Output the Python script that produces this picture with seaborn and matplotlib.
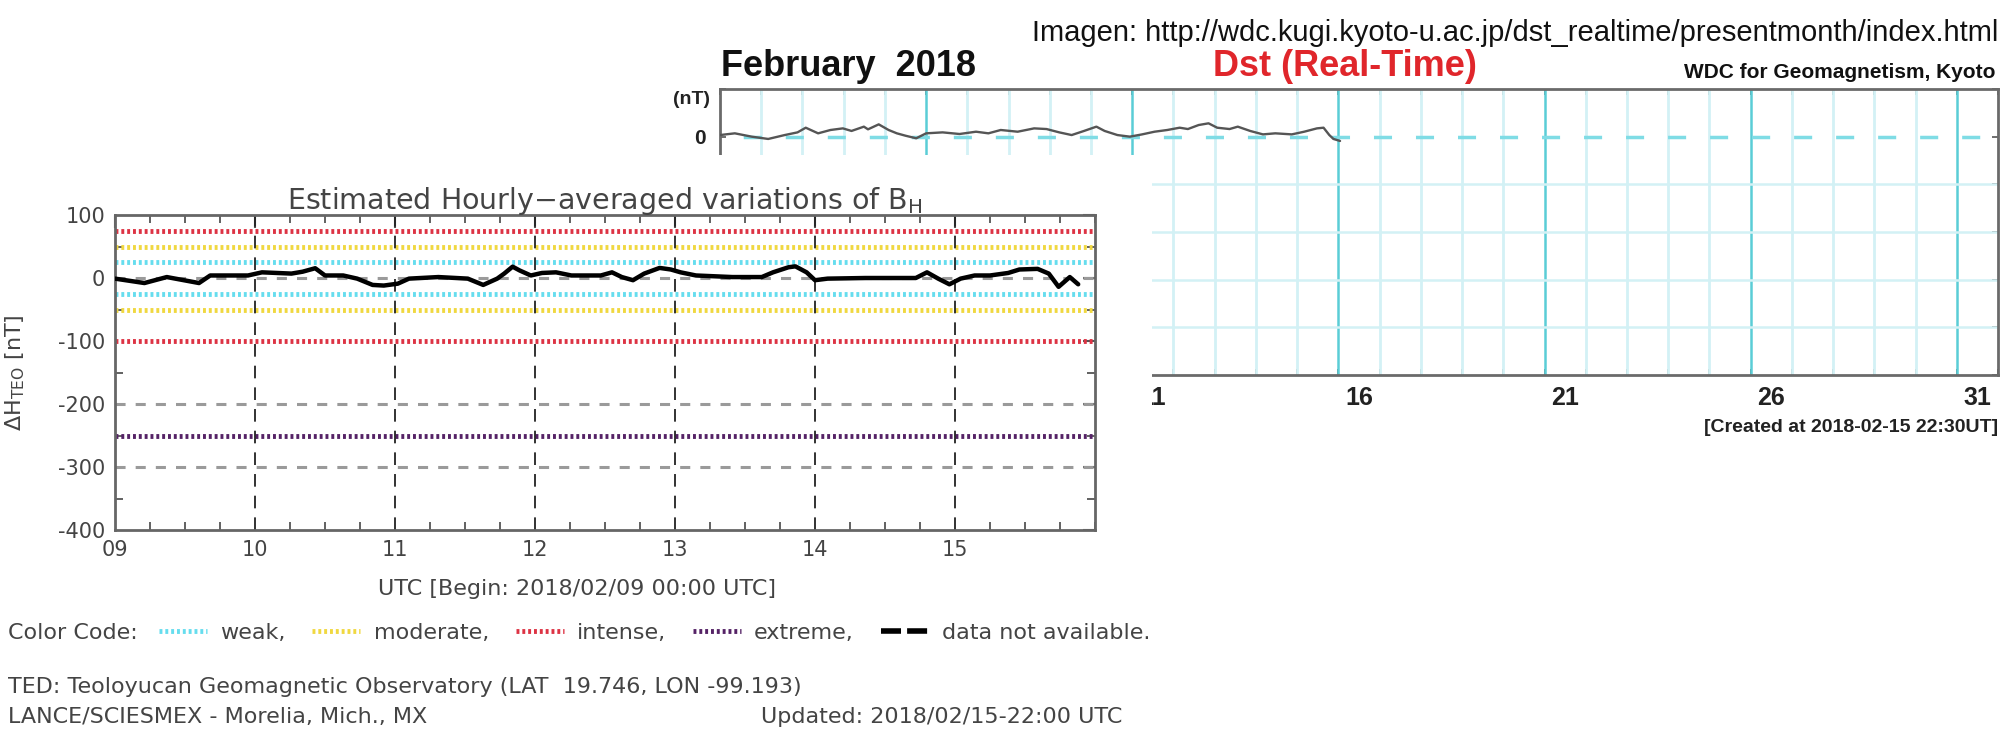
import matplotlib
matplotlib.use("Agg")
import matplotlib.pyplot as plt
import seaborn as sns
import numpy as np
from matplotlib.patches import Rectangle
from matplotlib.lines import Line2D
from matplotlib.ticker import MultipleLocator

# ---------------- data ----------------
# Left panel: TEO estimated hourly-averaged variations of B_H (day of Feb 2018, nT)
teo_day = [9.00, 9.21, 9.37, 9.60, 9.68, 9.95, 10.05, 10.26, 10.34, 10.43, 10.50, 10.63,
           10.73, 10.84, 10.92, 11.02, 11.10, 11.31, 11.52, 11.63, 11.73, 11.78, 11.84,
           11.89, 11.97, 12.05, 12.15, 12.26, 12.47, 12.55, 12.62, 12.70, 12.78, 12.89,
           12.97, 13.04, 13.15, 13.41, 13.62, 13.70, 13.81, 13.86, 13.94, 14.00, 14.09,
           14.36, 14.72, 14.80, 14.88, 14.96, 15.04, 15.14, 15.25, 15.38, 15.46, 15.59,
           15.67, 15.74, 15.82, 15.88]
teo_dh = [-1, -8, 1.5, -8, 4, 4, 9, 7, 10, 15.5, 4, 4,
          -1, -11, -12, -9, -1, 1.5, -1, -11, -1, 7, 18,
          12, 4, 8, 9, 4, 4, 9, 1.5, -3.5, 7, 16,
          13.5, 9, 4, 1.5, 1.5, 9, 17, 18.5, 9, -3.5, -1,
          0, 0, 9, -1, -10, -1, 4, 4, 8, 13.5, 14.5,
          7, -14, 1.5, -10]

# Storm-level reference lines (nT)
level_values = [25, -25, 50, -50, 75, -100, -250]
level_names = ["weak", "weak", "moderate", "moderate", "intense", "intense", "extreme"]
ref_dashed = [0, -200, -300]
teo_xticks = [9, 10, 11, 12, 13, 14, 15]
teo_xticklabels = ["09", "10", "11", "12", "13", "14", "15"]
teo_yticks = [100, 0, -100, -200, -300, -400]

# Right panel: Dst real-time, February 2018 (day, nT)
dst_day = [1.00, 1.36, 1.77, 2.17, 2.57, 2.88, 3.08, 3.38, 3.68, 3.98, 4.19, 4.49, 4.59,
           4.85, 5.09, 5.29, 5.50, 5.76, 6.00, 6.40, 6.81, 7.21, 7.51, 7.81, 8.22, 8.62,
           8.92, 9.23, 9.53, 9.83, 10.13, 10.33, 10.64, 10.94, 11.24, 11.54, 11.85, 12.15,
           12.35, 12.61, 12.85, 13.06, 13.36, 13.56, 13.86, 14.17, 14.47, 14.87, 15.17,
           15.48, 15.64, 15.78, 15.88, 16.04]
dst_nt = [1.7, 3.5, 0, -2.4, 1.7, 4.5, 9.4, 3.5, 7, 8.7, 6, 10.5, 7.7,
          12.9, 7, 3.5, 1, -1.7, 3.5, 4.5, 2.8, 5.2, 3.5, 7, 5.2, 8.7,
          8, 4.5, 1.7, 6, 10.5, 6, 1.7, 0, 2.4, 5.2, 7, 9.4,
          8, 12.2, 14, 9.4, 8, 10.5, 6, 2.4, 3.5, 2.4, 5.2,
          8.7, 9.4, 1.7, -2.4, -4.5]
dst_label_days = [1, 6, 11, 16, 21, 26, 31]

# ---------------- styling ----------------
sns.set_theme(style="white")
plt.rcParams["font.family"] = ["DejaVu Sans"]
plt.rcParams["axes.unicode_minus"] = True

W, H = 2004, 732
fig = plt.figure(figsize=(W / 100, H / 100), dpi=100)
fig.patch.set_facecolor("white")


def fx(px):
    return px / W


def fy(py):
    return 1 - py / H


level_colors = {"weak": "#66DDEE", "moderate": "#F0D840",
                "intense": "#DD3344", "extreme": "#552266"}
dot_style = (0, (0.6, 0.6))
HEAD = ["Liberation Sans", "DejaVu Sans"]

# ---------------- Dst panel (background) ----------------
axd = fig.add_axes([fx(720), fy(375), fx(1278), 286 / H])
axd.set_zorder(0)
axd.set_xlim(1, 32)
axd.set_ylim(-250, 50)
thin_c = "#D3F1F5"
thick_c = "#5ACDD6"
for d in range(2, 32):
    if d in dst_label_days:
        axd.axvline(d, color=thick_c, lw=1.8, zorder=1)
    else:
        axd.axvline(d, color=thin_c, lw=2.0, zorder=1)
for v in [-50, -100, -150, -200]:
    axd.axhline(v, color=thin_c, lw=1.8, zorder=1)
axd.axhline(0, color="#7FDCE5", lw=2.5, linestyle=(5.4, (5.2, 6.9)), zorder=1)
sns.lineplot(x=dst_day, y=dst_nt, ax=axd, color="#555555", lw=1.7, zorder=3)
for s in axd.spines.values():
    s.set_color("#6A6A6A")
    s.set_linewidth(2)
    s.set_visible(True)
axd.set_xticks(range(1, 33))
axd.set_xticklabels([""] * 32)
axd.set_xticks([d + 0.5 for d in dst_label_days], minor=True)
axd.set_xticklabels([str(d) for d in dst_label_days], minor=True,
                    fontfamily=HEAD, fontweight="bold", fontsize=18, color="#222222")
axd.tick_params(axis="x", which="major", direction="in", length=4, width=1.2,
                color="#555555", top=True, bottom=True)
axd.tick_params(axis="x", which="minor", length=0, pad=8)
yt = list(range(-250, 51, 50))
axd.set_yticks(yt)
axd.set_yticklabels(["0" if v == 0 else "" for v in yt], fontfamily=HEAD,
                    fontweight="bold", fontsize=15, color="#222222")
axd.tick_params(axis="y", direction="in", length=4, width=1.2, color="#555555",
                left=True, right=True, pad=10)
axd.set_xlabel("")
axd.set_ylabel("")

fig.text(fx(1998), fy(41), "Imagen: http://wdc.kugi.kyoto-u.ac.jp/dst_realtime/presentmonth/index.html",
         ha="right", va="baseline", fontsize=21, family=HEAD, color="#111111")
fig.text(fx(721), fy(76), "February  2018", ha="left", va="baseline", fontsize=26,
         family=HEAD, fontweight="bold", color="#111111")
fig.text(fx(1345), fy(76), "Dst (Real-Time)", ha="center", va="baseline", fontsize=26,
         family=HEAD, fontweight="bold", color="#E0262B")
fig.text(fx(1995), fy(78), "WDC for Geomagnetism, Kyoto", ha="right", va="baseline",
         fontsize=15, family=HEAD, fontweight="bold", color="#111111")
fig.text(fx(710), fy(100), "(nT)", ha="right", va="center", fontsize=14,
         family=HEAD, fontweight="bold", color="#222222")
fig.text(fx(1998), fy(428), "[Created at 2018-02-15 22:30UT]", ha="right", va="center",
         fontsize=14, family=HEAD, fontweight="bold", color="#222222")

# ---------------- white overlay of the second image ----------------
fig.add_artist(Rectangle((0, 0), fx(1152), fy(155), transform=fig.transFigure,
                         facecolor="white", edgecolor="none", zorder=1))

# ---------------- TEO panel (foreground) ----------------
ax = fig.add_axes([fx(115), fy(530), fx(980), 315 / H])
ax.set_zorder(2)
ax.set_facecolor("none")
ax.set_xlim(9, 16)
ax.set_ylim(-400, 100)
for v, name in zip(level_values, level_names):
    ax.axhline(v, color=level_colors[name], lw=3.5, linestyle=dot_style, zorder=2)
for v in ref_dashed:
    ax.axhline(v, color="#9A9A9A", lw=2.2, linestyle=(0, (3.3, 3.3)), zorder=2)
for d in teo_xticks[1:]:
    ax.axvline(d, color="#222222", lw=1.3, linestyle=(0, (7, 5)), zorder=2)
sns.lineplot(x=teo_day, y=teo_dh, ax=ax, color="black", lw=3.2, zorder=5)

txt_c = "#444444"
FS = 16
ax.set_xticks(teo_xticks)
ax.set_xticklabels(teo_xticklabels, fontsize=15, color=txt_c)
ax.set_yticks(teo_yticks)
ax.set_yticklabels([str(v) for v in teo_yticks], fontsize=15, color=txt_c)
ax.xaxis.set_minor_locator(MultipleLocator(0.25))
ax.yaxis.set_minor_locator(MultipleLocator(50))
ax.tick_params(which="major", direction="in", length=9, width=1.5, color="#555555",
               top=True, right=True, pad=7)
ax.tick_params(which="minor", direction="in", length=6, width=1.3, color="#555555",
               top=True, right=True, bottom=True, left=True)
for s in ax.spines.values():
    s.set_color("#666666")
    s.set_linewidth(2)
    s.set_visible(True)
ax.set_title(r"Estimated Hourly$-$averaged variations of B$_{\rm H}$", fontsize=20.5,
             color=txt_c, pad=4)
ax.set_xlabel("UTC [Begin: 2018/02/09 00:00 UTC]", fontsize=FS, color=txt_c)
ax.xaxis.set_label_coords((577 - 115) / 980, -0.155)
ax.xaxis.label.set_va("top")
ax.set_ylabel(r"$\Delta$H$_{\rm TEO}$ [nT]", fontsize=FS, color=txt_c)
ax.yaxis.set_label_coords((27 - 115) / 980, 0.5)

# Legend row
fig.text(fx(8), fy(633), "Color Code:", ha="left", va="center", fontsize=FS, color=txt_c)
handles = [Line2D([], [], color=level_colors["weak"], lw=3.5, linestyle=dot_style),
           Line2D([], [], color=level_colors["moderate"], lw=3.5, linestyle=dot_style),
           Line2D([], [], color=level_colors["intense"], lw=3.5, linestyle=dot_style),
           Line2D([], [], color=level_colors["extreme"], lw=3.5, linestyle=dot_style),
           Line2D([], [], color="black", lw=4, linestyle=(0, (3.6, 1.1)))]
labels = ["weak,", "moderate,", "intense,", "extreme,", "data not available."]
leg = fig.legend(handles, labels, loc="center left", bbox_to_anchor=(fx(159), fy(633)),
                 ncol=5, frameon=False, fontsize=FS, handlelength=2.16, handletextpad=0.6,
                 columnspacing=1.2, borderpad=0, borderaxespad=0)
for t in leg.get_texts():
    t.set_color(txt_c)

fig.text(fx(8), fy(687), "TED: Teoloyucan Geomagnetic Observatory (LAT  19.746, LON -99.193)",
         ha="left", va="center", fontsize=FS, color=txt_c)
fig.text(fx(8), fy(717), "LANCE/SCIESMEX - Morelia, Mich., MX",
         ha="left", va="center", fontsize=FS, color=txt_c)
fig.text(fx(1122), fy(717), "Updated: 2018/02/15-22:00 UTC",
         ha="right", va="center", fontsize=FS, color=txt_c)

fig.savefig("out.png", dpi=100, facecolor="white")
